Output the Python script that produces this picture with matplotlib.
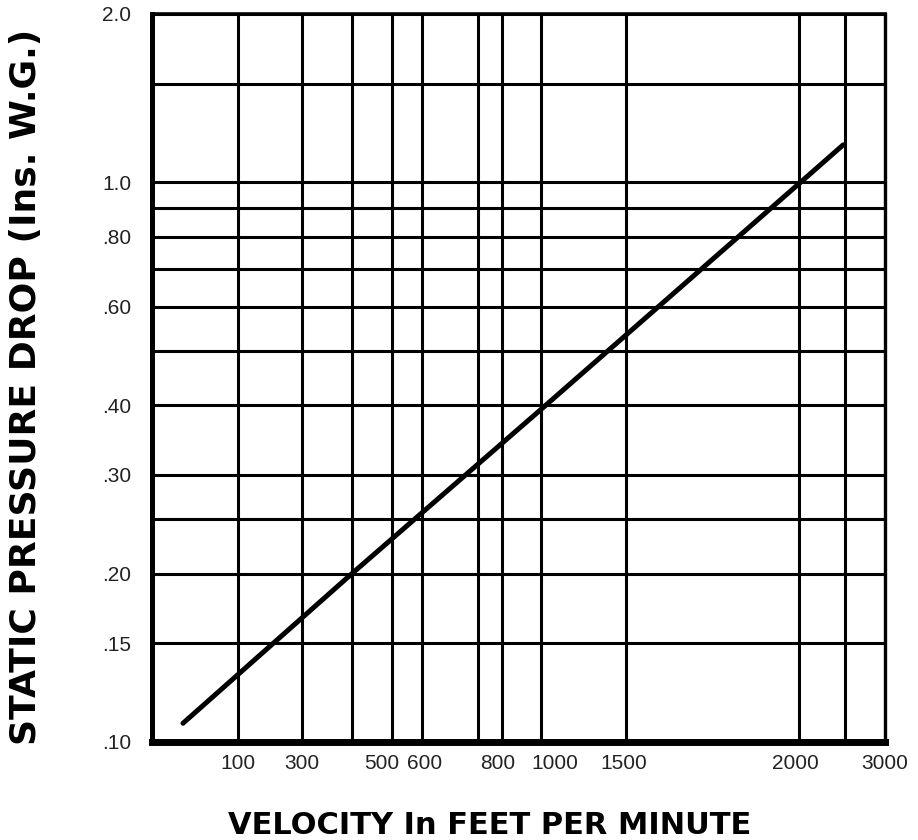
import numpy as np
import matplotlib
matplotlib.use('Agg')
import matplotlib.pyplot as plt
from matplotlib.ticker import FixedLocator, FixedFormatter, NullFormatter
from matplotlib.transforms import ScaledTranslation

# velocity axis is hand-drawn (not linear, not log): anchor values and where they sit
vel_anchor = [0, 100, 300, 400, 500, 600, 700, 800, 1000, 1500, 2000, 2500, 3000]
vel_anchor_pos = [0, 86, 150, 200, 240, 270, 326, 350, 389, 474, 647, 693, 733]

vel_labels = [100, 300, 500, 600, 800, 1000, 1500, 2000, 3000]
vel_minor = [400, 700, 2500]
# labels are not quite centred on their lines in the original (px)
label_nudge = {'500': -10, '600': 3, '800': -4, '1000': 14, '1500': -2, '2000': -4}

sp_labels = [0.10, 0.15, 0.20, 0.30, 0.40, 0.60, 0.80, 1.0, 2.0]
sp_label_text = ['.10', '.15', '.20', '.30', '.40', '.60', '.80', '1.0', '2.0']
sp_minor = [0.25, 0.5, 0.7, 0.9, 1.5]

# pressure drop curve
velocity = [36, 400, 1000, 2000, 2480]
pressure = [0.108, 0.20, 0.393, 0.995, 1.167]


def fwd(v):
    return np.interp(v, vel_anchor, vel_anchor_pos)


def inv(p):
    return np.interp(p, vel_anchor_pos, vel_anchor)


plt.rcParams['font.family'] = ['Liberation Sans', 'DejaVu Sans']

fig = plt.figure(figsize=(9.18, 8.4), dpi=100)
ax = fig.add_axes([0.1656, 0.1167, 0.7985, 0.8667])

ax.set_xscale('function', functions=(fwd, inv))
ax.set_yscale('log')
ax.set_xlim(0, 3000)
ax.set_ylim(0.1, 2.0)

ax.plot(velocity, pressure, color='black', lw=3.6, solid_capstyle='round', zorder=3)

ax.xaxis.set_major_locator(FixedLocator(vel_labels))
ax.xaxis.set_major_formatter(FixedFormatter([str(v) for v in vel_labels]))
ax.xaxis.set_minor_locator(FixedLocator(vel_minor))
ax.xaxis.set_minor_formatter(NullFormatter())

ax.yaxis.set_major_locator(FixedLocator(sp_labels))
ax.yaxis.set_major_formatter(FixedFormatter(sp_label_text))
ax.yaxis.set_minor_locator(FixedLocator(sp_minor))
ax.yaxis.set_minor_formatter(NullFormatter())

ax.grid(True, which='both', color='black', lw=2.2)
ax.tick_params(which='both', length=0)
ax.tick_params(axis='x', pad=9, labelsize=15, labelcolor='#222222')
ax.tick_params(axis='y', pad=15, labelsize=15, labelcolor='#222222')

for lab in ax.get_xticklabels():
    dx = label_nudge.get(lab.get_text(), 0)
    if dx:
        lab.set_transform(lab.get_transform() + ScaledTranslation(dx / 100, 0, fig.dpi_scale_trans))

for side, w in (('left', 3.6), ('bottom', 5.0), ('top', 2.6), ('right', 2.4)):
    ax.spines[side].set_linewidth(w)
    ax.spines[side].set_color('black')

fig.text(0.533, 0.017, 'VELOCITY In FEET PER MINUTE', fontsize=22, fontweight='heavy',
         family='DejaVu Sans', ha='center', va='center')
fig.text(0.028, 0.539, 'STATIC PRESSURE DROP (Ins. W.G.)', fontsize=26, fontweight='heavy',
         family='DejaVu Sans', ha='center', va='center', rotation=90)

fig.savefig('out.png', dpi=100)
